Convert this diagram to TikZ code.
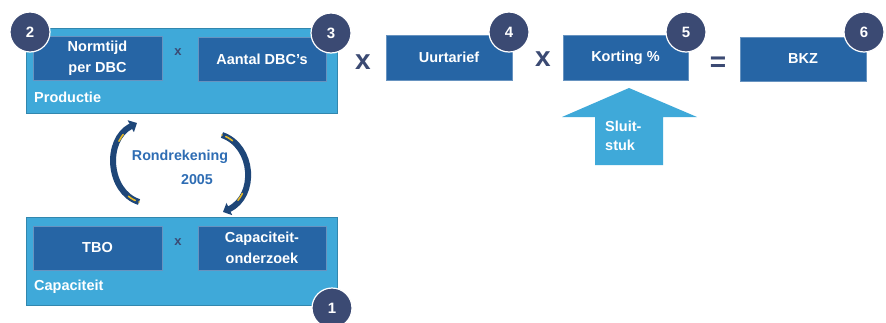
\documentclass[tikz,border=0pt]{standalone}
\usepackage{fontspec}
\setmainfont{Liberation Sans}
\usetikzlibrary{arrows.meta}
\definecolor{lightblue}{RGB}{63,169,217}
\definecolor{darkbox}{RGB}{38,101,165}
\definecolor{navy}{RGB}{59,74,115}
\definecolor{txtblue}{RGB}{46,109,180}
\definecolor{arcnavy}{RGB}{30,70,120}
\definecolor{arcyellow}{RGB}{230,185,40}
\tikzset{
  outerbox/.style={fill=lightblue, draw=lightblue!80!black, line width=0.6pt, minimum width=311pt, inner sep=0pt},
  innerbox/.style={fill=darkbox, draw=darkbox!70!white, line width=0.5pt, text=white, font=\bfseries\fontsize{14.5}{21}\selectfont, align=center, inner sep=0pt},
  badge/.style={circle, fill=navy, draw=white, line width=1.2pt, minimum size=40pt, inner sep=0pt, text=white, font=\bfseries\fontsize{15}{16}\selectfont},
  smallx/.style={text=navy, font=\bfseries\fontsize{13}{14}\selectfont, inner sep=0pt},
  bigop/.style={text=navy, font=\bfseries\fontsize{28}{30}\selectfont, inner sep=0pt},
  boxlabel/.style={text=white, font=\bfseries\fontsize{14.5}{19}\selectfont, anchor=west, inner sep=0pt},
  arcline/.style={draw=arcnavy, line width=6pt, -{Triangle[width=13pt,length=7pt]}},
  archigh/.style={draw=arcyellow, line width=1.6pt, line cap=round}
}
\begin{document}
\begin{tikzpicture}[x=1pt,y=-1pt]
\useasboundingbox[fill=white] (0,0) rectangle (886,322);
% Productie
\node[outerbox, minimum height=85pt] (prod) at (181.5,70.5) {};
\node[innerbox, minimum width=129pt, minimum height=44pt] (norm) at (97.5,58) {Normtijd\\per DBC};
\node[innerbox, minimum width=128pt, minimum height=44pt] (aantal) at (262,59) {Aantal DBC’s};
\node[smallx] (x1) at (178,52) {x};
\node[boxlabel] (prodlab) at (34,97) {Productie};
% Capaciteit
\node[outerbox, minimum height=88pt] (cap) at (181.5,261) {};
\node[innerbox, minimum width=129pt, minimum height=44pt] (tbo) at (97.5,248) {TBO};
\node[innerbox, minimum width=128pt, minimum height=44pt] (capo) at (262,248) {Capaciteit-\\onderzoek};
\node[smallx] (x2) at (178,242) {x};
\node[boxlabel] (caplab) at (34,287) {Capaciteit};
% Right chain
\node[bigop] (x3) at (363,62) {x};
\node[innerbox, minimum width=126pt, minimum height=45pt] (uur) at (449,57.5) {Uurtarief};
\node[bigop] (x4) at (543,59) {x};
\node[innerbox, minimum width=125pt, minimum height=45pt] (kort) at (625.5,57.5) {Korting \%};
\node[bigop] (eq) at (718,64) {=};
\node[innerbox, minimum width=126pt, minimum height=44pt] (bkz) at (803,59) {BKZ};
% Sluitstuk arrow
\fill[lightblue] (629,88) -- (697,117) -- (663,117) -- (663,165) -- (595,165) -- (595,117) -- (562,117) -- cycle;
\node[boxlabel, align=left] (sluit) at (605,136) {Sluit-\\stuk};
% Rondrekening
\node[text=txtblue, font=\bfseries\fontsize{14.3}{16}\selectfont, inner sep=0pt] (rond) at (180,157) {Rondrekening};
\node[text=txtblue, font=\bfseries\fontsize{14.3}{16}\selectfont, inner sep=0pt] (jaar) at (197,180) {2005};
\coordinate (la) at (139,202);
\coordinate (lb) at (137,123);
\coordinate (ra) at (222,135);
\coordinate (rb) at (223,212);
\draw[arcline] (la) .. controls (108,192) and (104,140) .. (lb);
\draw[archigh, dash pattern=on 0pt off 4pt on 8pt off 60pt on 8pt off 60pt] (la) .. controls (108,192) and (104,140) .. (lb);
\draw[arcline] (ra) .. controls (254,146) and (257,196) .. (rb);
\draw[archigh, dash pattern=on 0pt off 4pt on 8pt off 58pt on 8pt off 60pt] (ra) .. controls (254,146) and (257,196) .. (rb);
% Badges
\node[badge] (b2) at (30,32) {2};
\node[badge] (b3) at (331,33) {3};
\node[badge] (b1) at (332,308) {1};
\node[badge] (b4) at (509,32) {4};
\node[badge] (b5) at (686,32) {5};
\node[badge] (b6) at (864,32) {6};
\end{tikzpicture}
\end{document}
